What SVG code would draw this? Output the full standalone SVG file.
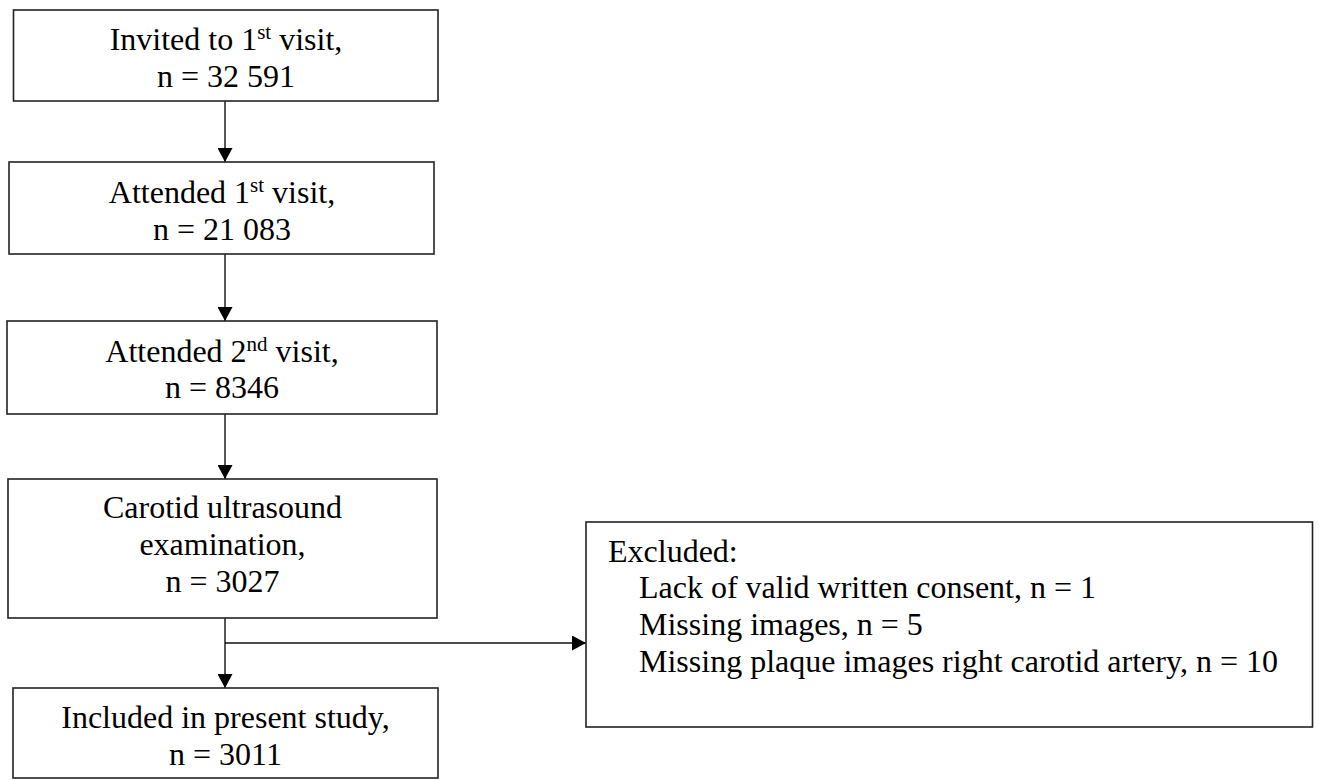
<svg xmlns="http://www.w3.org/2000/svg" width="1319" height="780" viewBox="0 0 1319 780">
<style>
.box{fill:#fff;stroke:#222;stroke-width:1.6}
.t{font-family:"Liberation Serif","Times New Roman",serif;font-size:32px;fill:#000}
.c{text-anchor:middle}
.line{stroke:#111;stroke-width:1.4;fill:none}
</style>
<defs>
<marker id="ah" markerUnits="userSpaceOnUse" markerWidth="15" markerHeight="15" refX="14" refY="7.5" orient="auto">
<path d="M0,0 L14,7.5 L0,15 Z" fill="#000"/>
</marker>
</defs>
<rect width="1319" height="780" fill="#fff"/>
<g id="connectors">
<line class="line" x1="225" y1="101" x2="225" y2="162" marker-end="url(#ah)"/>
<line class="line" x1="225" y1="254" x2="225" y2="321" marker-end="url(#ah)"/>
<line class="line" x1="225" y1="414" x2="225" y2="479" marker-end="url(#ah)"/>
<line class="line" x1="225" y1="618" x2="225" y2="688" marker-end="url(#ah)"/>
<line class="line" x1="225" y1="643" x2="586" y2="643" marker-end="url(#ah)"/>
</g>
<g id="invited">
<rect class="box" x="13.5" y="10" width="424.5" height="91"/>
<text class="t c" x="226" y="50">Invited to 1<tspan font-size="21" dy="-11">st</tspan><tspan dy="11"> visit,</tspan></text>
<text class="t c" x="226" y="87">n = 32 591</text>
</g>
<g id="attended1">
<rect class="box" x="9" y="162" width="425" height="92"/>
<text class="t c" x="222" y="203">Attended 1<tspan font-size="21" dy="-11">st</tspan><tspan dy="11"> visit,</tspan></text>
<text class="t c" x="222" y="240">n = 21 083</text>
</g>
<g id="attended2">
<rect class="box" x="7" y="321" width="430" height="93"/>
<text class="t c" x="222" y="362">Attended 2<tspan font-size="21" dy="-11">nd</tspan><tspan dy="11"> visit,</tspan></text>
<text class="t c" x="222" y="398">n = 8346</text>
</g>
<g id="carotid">
<rect class="box" x="8" y="479" width="429" height="139"/>
<text class="t c" x="222.5" y="518">Carotid ultrasound</text>
<text class="t c" x="222.5" y="555">examination,</text>
<text class="t c" x="222.5" y="592">n = 3027</text>
</g>
<g id="included">
<rect class="box" x="13" y="688" width="425" height="90"/>
<text class="t c" x="225.5" y="728">Included in present study,</text>
<text class="t c" x="225.5" y="765">n = 3011</text>
</g>
<g id="excluded">
<rect class="box" x="586" y="522" width="726.5" height="205"/>
<text class="t" x="608" y="562">Excluded:</text>
<text class="t" x="639" y="598">Lack of valid written consent, n = 1</text>
<text class="t" x="639" y="635">Missing images, n = 5</text>
<text class="t" x="639" y="672">Missing plaque images right carotid artery, n = 10</text>
</g>
</svg>
